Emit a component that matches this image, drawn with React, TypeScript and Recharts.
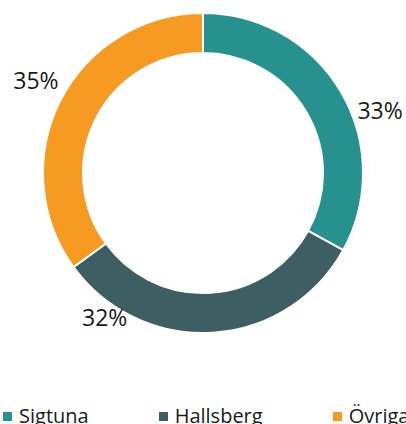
import { Cell, Legend, Pie, PieChart } from "recharts";

const regions = ["Sigtuna", "Hallsberg", "Övriga"];
const shares = [33, 32, 35];
const colors = ["#26918f", "#3d5e62", "#f79a21"];

// nudges so the labels sit where the reference puts them (degrees clockwise, px out)
const labelShift = [11, 38, 2];
const labelGap = [28, 14, 31];

const data = regions.map((name, i) => ({ name, value: shares[i] }));

const RADIAN = Math.PI / 180;

function renderLabel(props: any) {
  const { cx, cy, midAngle, outerRadius, index, value } = props;
  // recharts midAngle: counter-clockwise from 3 o'clock
  const angle = midAngle - labelShift[index];
  const r = outerRadius + labelGap[index];
  const x = cx + r * Math.cos(angle * RADIAN);
  const y = cy - r * Math.sin(angle * RADIAN);
  return (
    <text
      x={x}
      y={y}
      fill="#1a1a1a"
      fontSize={23}
      textAnchor="middle"
      dominantBaseline="central"
    >
      {`${value}%`}
    </text>
  );
}

function renderLegend() {
  return (
    <div style={{ display: "flex", alignItems: "center", whiteSpace: "nowrap", overflow: "hidden", width: 403, height: 30 }}>
      {regions.map((name, i) => (
        <div key={name} style={{ display: "flex", alignItems: "center", marginRight: 70, flexShrink: 0 }}>
          <span
            style={{
              display: "inline-block",
              width: 9,
              height: 9,
              background: colors[i],
              marginRight: 7,
              marginTop: 3,
            }}
          />
          <span style={{ fontSize: 20, color: "#1a1a1a" }}>{name}</span>
        </div>
      ))}
    </div>
  );
}

export default function App() {
  return (
    <div
      style={{
        position: "absolute",
        top: 0,
        left: 0,
        width: 406,
        height: 424,
        overflow: "hidden",
        background: "#fff",
        fontFamily: "'Open Sans', sans-serif",
      }}
    >
      <PieChart width={406} height={424} margin={{ top: 0, right: 0, bottom: 0, left: 0 }}>
        <Pie
          data={data}
          dataKey="value"
          nameKey="name"
          cx={203}
          cy={173}
          innerRadius={120}
          outerRadius={160}
          startAngle={90}
          endAngle={-270}
          stroke="#ffffff"
          strokeWidth={2}
          label={renderLabel}
          labelLine={false}
          isAnimationActive={false}
        >
          {data.map((d, i) => (
            <Cell key={d.name} fill={colors[i]} />
          ))}
        </Pie>
        <Legend
          content={renderLegend}
          wrapperStyle={{ left: 3, top: 400, width: 403 }}
        />
      </PieChart>
    </div>
  );
}
